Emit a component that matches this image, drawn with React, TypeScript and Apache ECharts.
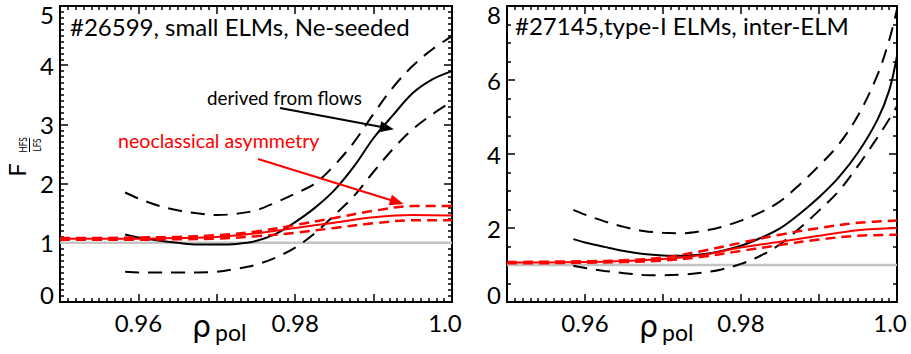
import React, { useEffect, useRef } from "react";
import * as echarts from "echarts";

const FONT = "Lato";

// ---------- data ----------
const panelTitles = ["#26599, small ELMs, Ne-seeded", "#27145,type-I ELMs, inter-ELM"];

// left panel, derived from flows (black)
const xBlackL = [0.9583, 0.96, 0.9625, 0.965, 0.9675, 0.97, 0.9725, 0.975, 0.9775, 0.98, 0.9825, 0.985, 0.9875, 0.99, 0.9925, 0.995, 0.9975, 1.0];
const blackSolidL = [1.14, 1.09, 1.04, 1.0, 0.97, 0.97, 0.98, 1.03, 1.15, 1.35, 1.59, 1.89, 2.29, 2.77, 3.16, 3.53, 3.76, 3.9];
const blackUpperL = [1.85, 1.75, 1.63, 1.55, 1.5, 1.47, 1.49, 1.55, 1.68, 1.83, 2.0, 2.31, 2.7, 3.18, 3.63, 3.99, 4.27, 4.49];
const blackLowerL = [0.51, 0.5, 0.5, 0.5, 0.5, 0.51, 0.56, 0.63, 0.75, 0.92, 1.16, 1.47, 1.79, 2.2, 2.59, 2.92, 3.17, 3.39];

// right panel, derived from flows (black)
const xBlackR = [0.9585, 0.96, 0.9625, 0.965, 0.9675, 0.97, 0.9725, 0.975, 0.9775, 0.98, 0.9825, 0.985, 0.9875, 0.99, 0.9925, 0.995, 0.9975, 0.999, 1.0];
const blackSolidR = [1.7, 1.61, 1.49, 1.38, 1.3, 1.26, 1.25, 1.29, 1.38, 1.52, 1.73, 1.99, 2.38, 2.83, 3.36, 4.04, 4.93, 5.72, 6.65];
const blackUpperR = [2.49, 2.36, 2.18, 2.03, 1.92, 1.87, 1.86, 1.92, 2.03, 2.2, 2.42, 2.72, 3.17, 3.68, 4.25, 5.04, 6.14, 7.08, 7.91];
const blackLowerR = [0.98, 0.92, 0.84, 0.78, 0.73, 0.72, 0.74, 0.79, 0.88, 1.03, 1.25, 1.56, 1.99, 2.47, 2.99, 3.68, 4.45, 4.94, 5.29];

// neoclassical asymmetry (red)
const xRed = [0.95, 0.955, 0.96, 0.965, 0.97, 0.975, 0.98, 0.985, 0.99, 0.995, 1.0];
const redSolidL = [1.07, 1.07, 1.07, 1.08, 1.1, 1.16, 1.25, 1.34, 1.43, 1.47, 1.46];
const redUpperL = [1.08, 1.08, 1.09, 1.1, 1.13, 1.19, 1.3, 1.42, 1.54, 1.62, 1.62];
const redLowerL = [1.05, 1.05, 1.05, 1.06, 1.07, 1.11, 1.17, 1.25, 1.33, 1.38, 1.38];
const redSolidR = [1.07, 1.07, 1.08, 1.11, 1.16, 1.27, 1.47, 1.63, 1.79, 1.94, 2.0];
const redUpperR = [1.08, 1.09, 1.1, 1.13, 1.2, 1.38, 1.6, 1.82, 2.0, 2.14, 2.2];
const redLowerR = [1.05, 1.05, 1.06, 1.08, 1.12, 1.22, 1.38, 1.54, 1.69, 1.79, 1.82];

// reference level F = 1
const unityX = [0.95, 1.0];
const unityY = [1, 1];

// axis ticks
const xMin = 0.95;
const xMax = 1.0;
const xInterval = 0.01;
const xLabelValues = [0.96, 0.98, 1.0];
const xLabelTexts = ["0.96", "0.98", "1.0"];
const yMaxL = 5;
const yIntervalL = 1;
const yMaxR = 8;
const yIntervalR = 2;

// annotation arrows (data coordinates, left panel): [x1, y1, x2, y2]
const arrowFlows = [0.97806, 3.277, 0.99171, 2.939];
const arrowNeo = [0.97526, 2.416, 0.99298, 1.689];
const annotationTexts = ["derived from flows", "neoclassical asymmetry"];

// ---------- helpers ----------
const zip = (xs: number[], ys: number[]) => xs.map((x, i) => [x, ys[i]]);
const BLACK = "#000000";
const RED = "#ff0000";

function lineSeries(idx: number, xs: number[], ys: number[], color: string, dashed: number[] | null, width: number, z: number, extra: any = {}) {
  return {
    type: "line",
    xAxisIndex: idx,
    yAxisIndex: idx,
    data: zip(xs, ys),
    showSymbol: false,
    symbol: "none",
    smooth: 0.35,
    z,
    silent: true,
    lineStyle: { color, width, type: dashed ? dashed : "solid" },
    ...extra,
  };
}

function arrowMark(a: number[], color: string) {
  return {
    silent: true,
    symbol: ["none", "triangle"],
    symbolSize: [11, 14],
    label: { show: false },
    lineStyle: { color, width: 2, type: "solid" },
    data: [[{ coord: [a[0], a[1]] }, { coord: [a[2], a[3]] }]],
  };
}

const axisLineStyle = { color: BLACK, width: 2 };
const tickStyle = { color: BLACK, width: 1.5 };

function xAxes(grid: number) {
  const base = {
    gridIndex: grid,
    type: "value",
    min: xMin,
    max: xMax,
    interval: xInterval,
    splitLine: { show: false },
    axisLine: { show: true, onZero: false, lineStyle: axisLineStyle },
    axisTick: { show: true, inside: true, length: 8, lineStyle: tickStyle },
    minorTick: { show: true, splitNumber: 10, length: 4, lineStyle: tickStyle },
    minorSplitLine: { show: false },
  };
  return [
    {
      ...base,
      position: "bottom",
      axisLabel: {
        show: true,
        color: BLACK,
        fontFamily: FONT,
        fontSize: 24,
        margin: 8,
        formatter: (v: number) => {
          const i = xLabelValues.findIndex((t) => Math.abs(t - v) < 1e-6);
          if (i < 0) return "";
          if (i === xLabelValues.length - 1) return "{e|" + xLabelTexts[i] + "}";
          return xLabelTexts[i];
        },
        rich: { e: { fontFamily: FONT, fontSize: 24, color: BLACK, padding: [0, 14, 0, 0] } },
      },
    },
    { ...base, position: "top", axisLabel: { show: false } },
  ];
}

function yAxes(grid: number, max: number, interval: number, minorSplit: number) {
  const base = {
    gridIndex: grid,
    type: "value",
    min: 0,
    max,
    interval,
    splitLine: { show: false },
    axisLine: { show: true, onZero: false, lineStyle: axisLineStyle },
    axisTick: { show: true, inside: true, length: 8, lineStyle: tickStyle },
    minorTick: { show: true, splitNumber: minorSplit, length: 4, lineStyle: tickStyle },
    minorSplitLine: { show: false },
  };
  return [
    {
      ...base,
      position: "left",
      axisLabel: {
        show: true,
        color: BLACK,
        fontFamily: FONT,
        fontSize: 24,
        margin: 6,
        formatter: (v: number) => {
          if (Math.abs(v - max) < 1e-9) return "{t|" + v + "}";
          if (Math.abs(v) < 1e-9) return "{b|" + v + "}";
          return String(v);
        },
        rich: {
          t: { fontFamily: FONT, fontSize: 24, color: BLACK, padding: [16, 0, 0, 0] },
          b: { fontFamily: FONT, fontSize: 24, color: BLACK, padding: [0, 0, 16, 0] },
        },
      },
    },
    { ...base, position: "right", axisLabel: { show: false } },
  ];
}

function buildOption() {
  const xa = [...xAxes(0), ...xAxes(1)];
  const ya = [...yAxes(0, yMaxL, yIntervalL, 10), ...yAxes(1, yMaxR, yIntervalR, 4)];
  // axis indices: grid0 -> 0 (bottom/left), 1 (top/right); grid1 -> 2, 3
  const series: any[] = [
    lineSeries(0, unityX, unityY, "#c4c4c4", null, 2.5, 1, { smooth: false }),
    lineSeries(2, unityX, unityY, "#c4c4c4", null, 2.5, 1, { smooth: false }),

    lineSeries(0, xBlackL, blackUpperL, BLACK, [14, 9], 2, 2),
    lineSeries(0, xBlackL, blackLowerL, BLACK, [14, 9], 2, 2),
    lineSeries(0, xBlackL, blackSolidL, BLACK, null, 2, 2, { markLine: arrowMark(arrowFlows, BLACK) }),

    lineSeries(2, xBlackR, blackUpperR, BLACK, [14, 9], 2, 2),
    lineSeries(2, xBlackR, blackLowerR, BLACK, [14, 9], 2, 2),
    lineSeries(2, xBlackR, blackSolidR, BLACK, null, 2, 2),

    lineSeries(0, xRed, redUpperL, RED, [10, 6], 2.5, 3),
    lineSeries(0, xRed, redLowerL, RED, [10, 6], 2.5, 3),
    lineSeries(0, xRed, redSolidL, RED, null, 2, 3, { markLine: arrowMark(arrowNeo, RED) }),

    lineSeries(2, xRed, redUpperR, RED, [10, 6], 2.5, 3),
    lineSeries(2, xRed, redLowerR, RED, [10, 6], 2.5, 3),
    lineSeries(2, xRed, redSolidR, RED, null, 2, 3),
  ];

  const txt = (x: number, y: number, text: string, size: number, color: string, extra: any = {}, family: string = FONT) => ({
    type: "text",
    x,
    y,
    z: 10,
    silent: true,
    ...extra,
    style: {
      text,
      fill: color,
      font: `${size}px ${family}`,
      align: extra.align || "left",
      verticalAlign: "middle",
      textAlign: extra.align || "left",
      textVerticalAlign: "middle",
    },
  });

  const graphic: any[] = [
    txt(70, 26, panelTitles[0], 24, BLACK),
    txt(515, 25, panelTitles[1], 24, BLACK),
    txt(207, 97, annotationTexts[0], 18.8, BLACK),
    txt(118, 140, annotationTexts[1], 19.6, RED),
    // y-axis title F_{HFS/LFS}
    txt(16, 170, "F", 24, BLACK, { rotation: Math.PI / 2, align: "center" }),
    txt(22.5, 145, "HFS", 12, BLACK, { rotation: Math.PI / 2, align: "center", scaleX: 0.68 }),
    txt(36.5, 145, "LFS", 12, BLACK, { rotation: Math.PI / 2, align: "center", scaleX: 0.68 }),
    {
      type: "line",
      z: 10,
      silent: true,
      shape: { x1: 29.5, y1: 138, x2: 29.5, y2: 152 },
      style: { stroke: BLACK, lineWidth: 1 },
    },
    // x-axis titles rho_pol
    txt(192, 326, "ρ", 30, BLACK, {}, "'DejaVu Sans'"),
    txt(215, 332, "pol", 23, BLACK),
    txt(639, 326, "ρ", 30, BLACK, {}, "'DejaVu Sans'"),
    txt(662, 332, "pol", 23, BLACK),
  ];

  return {
    animation: false,
    backgroundColor: "#ffffff",
    grid: [
      { left: 60, top: 6, width: 392, height: 296 },
      { left: 507, top: 6, width: 390, height: 296 },
    ],
    xAxis: xa,
    yAxis: ya,
    series,
    graphic,
  };
}

export default function App() {
  const ref = useRef<HTMLDivElement>(null);
  useEffect(() => {
    const chart = echarts.init(ref.current!, null, { renderer: "svg" });
    chart.setOption(buildOption() as any);
    return () => chart.dispose();
  }, []);
  return (
    <div
      ref={ref}
      style={{ position: "fixed", left: 0, top: 0, width: 911, height: 354, background: "#fff" }}
    />
  );
}
